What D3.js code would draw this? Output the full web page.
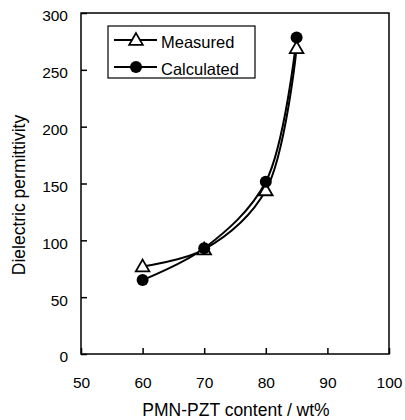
<!DOCTYPE html>
<html><head><meta charset="utf-8">
<script src="https://cdn.jsdelivr.net/npm/d3@7"></script>
<style>body{margin:0;background:#fff}svg{display:block;font-family:"Liberation Sans",Arial,sans-serif}</style>
</head><body>
<svg id="c" width="405" height="420"></svg>
<script>
const content = [60, 70, 80, 85];
const measured = [77, 92, 144, 269];
const calculated = [65, 93, 151.5, 278.5];
const xTicks = [50, 60, 70, 80, 90, 100];
const yTicks = [0, 50, 100, 150, 200, 250, 300];

const svg = d3.select("#c");
const L = 81, R = 389, T = 13, B = 354;
const x = d3.scaleLinear().domain([50, 100]).range([L, R]);
const y = d3.scaleLinear().domain([0, 300]).range([B, T]);

svg.append("rect").attr("x", L).attr("y", T).attr("width", R - L).attr("height", B - T)
  .attr("fill", "none").attr("stroke", "#000").attr("stroke-width", 1.5);

const xAxis = svg.append("g").attr("transform", `translate(0,${B})`)
  .call(d3.axisBottom(x).tickValues(xTicks).tickSize(-6).tickPadding(23).tickFormat(d3.format("d")));
const yAxis = svg.append("g").attr("transform", `translate(${L},0)`)
  .call(d3.axisLeft(y).tickValues(yTicks).tickSize(-6).tickPadding(13).tickFormat(d3.format("d")));
[xAxis, yAxis].forEach(a => {
  a.select(".domain").remove();
  a.selectAll("line").attr("stroke", "#000").attr("stroke-width", 1.5);
  a.selectAll("text").attr("font-size", 15.5).attr("fill", "#000")
    .attr("font-family", '"Liberation Sans",Arial,sans-serif');
});
yAxis.selectAll("text").attr("y", 3);

svg.append("text").attr("x", 236).attr("y", 416).attr("text-anchor", "middle")
  .attr("font-size", 17.5).text("PMN-PZT content / wt%");
svg.append("text").attr("transform", `translate(24.5,195) rotate(-90)`)
  .attr("text-anchor", "middle").attr("font-size", 17.5).text("Dielectric permittivity");

const line = d3.line().x(d => x(d[0])).y(d => y(d[1])).curve(d3.curveCatmullRom.alpha(0.5));
const mData = content.map((c, i) => [c, measured[i]]);
const cData = content.map((c, i) => [c, calculated[i]]);

svg.append("path").attr("d", line(mData)).attr("fill", "none").attr("stroke", "#000").attr("stroke-width", 2);
svg.append("path").attr("d", line(cData)).attr("fill", "none").attr("stroke", "#000").attr("stroke-width", 2);

const tri = d3.symbol().type(d3.symbolTriangle).size(80);
svg.selectAll(".m").data(mData).enter().append("path")
  .attr("transform", d => `translate(${x(d[0])},${y(d[1]) + 1})`)
  .attr("d", tri).attr("fill", "#fff").attr("stroke", "#000").attr("stroke-width", 1.8);
svg.selectAll(".cc").data(cData).enter().append("circle")
  .attr("cx", d => x(d[0])).attr("cy", d => y(d[1])).attr("r", 6).attr("fill", "#000");

const lg = svg.append("g");
lg.append("rect").attr("x", 108).attr("y", 26).attr("width", 147).attr("height", 52)
  .attr("fill", "#fff").attr("stroke", "#000").attr("stroke-width", 1.2);
const rows = [{name: "Measured", yy: 40}, {name: "Calculated", yy: 67}];
rows.forEach((r, i) => {
  lg.append("line").attr("x1", 114).attr("x2", 157).attr("y1", r.yy).attr("y2", r.yy)
    .attr("stroke", "#000").attr("stroke-width", 2);
  if (i === 0) lg.append("path").attr("transform", `translate(136,${r.yy + 1})`).attr("d", tri)
    .attr("fill", "#fff").attr("stroke", "#000").attr("stroke-width", 1.8);
  else lg.append("circle").attr("cx", 136).attr("cy", r.yy).attr("r", 6).attr("fill", "#000");
  lg.append("text").attr("x", 161).attr("y", r.yy + 8).attr("font-size", 16.5).text(r.name);
});
</script>
</body></html>
